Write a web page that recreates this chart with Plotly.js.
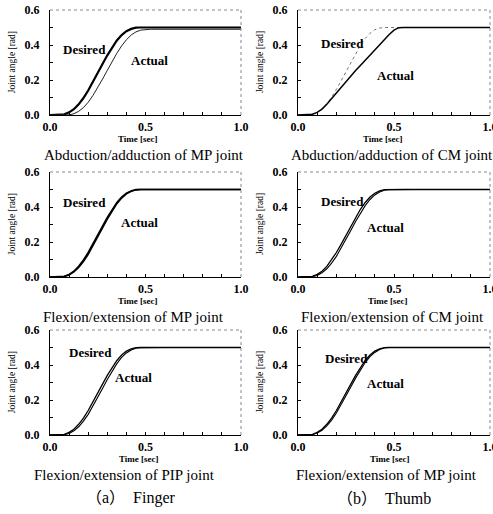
<!DOCTYPE html>
<html>
<head>
<meta charset="utf-8">
<script src="https://cdn.plot.ly/plotly-3.0.1.min.js"></script>
<style>html,body{margin:0;padding:0;background:#fff;}#chart{width:493px;height:514px;}</style>
</head>
<body>
<div id="chart"></div>
<script>
// ---- data ----
var time = [0, 0.05, 0.075, 0.1, 0.125, 0.15, 0.175, 0.2, 0.225, 0.25, 0.275, 0.3, 0.325, 0.35, 0.375, 0.4, 0.425, 0.45, 0.475, 0.5, 0.525, 0.55, 0.6, 1.0];

var desired1 = [0, 0.000, 0.004, 0.015, 0.033, 0.061, 0.097, 0.140, 0.188, 0.240, 0.291, 0.341, 0.387, 0.426, 0.457, 0.479, 0.492, 0.499, 0.500, 0.500, 0.500, 0.500, 0.500, 0.500];
var actual1  = [0, 0.000, 0.000, 0.001, 0.007, 0.021, 0.042, 0.073, 0.112, 0.156, 0.205, 0.255, 0.305, 0.353, 0.395, 0.430, 0.457, 0.475, 0.485, 0.489, 0.490, 0.490, 0.490, 0.490];

var desired2 = [0, 0.000, 0.004, 0.016, 0.035, 0.064, 0.101, 0.146, 0.196, 0.250, 0.302, 0.352, 0.398, 0.437, 0.467, 0.487, 0.497, 0.500, 0.500, 0.500, 0.500, 0.500, 0.500, 0.500];
var actual2  = [0, 0.000, 0.004, 0.015, 0.034, 0.062, 0.095, 0.128, 0.158, 0.192, 0.224, 0.254, 0.283, 0.313, 0.343, 0.373, 0.403, 0.432, 0.460, 0.485, 0.499, 0.500, 0.500, 0.500];

var desired3 = [0, 0.000, 0.004, 0.015, 0.033, 0.061, 0.097, 0.140, 0.188, 0.240, 0.291, 0.341, 0.387, 0.426, 0.457, 0.479, 0.492, 0.499, 0.500, 0.500, 0.500, 0.500, 0.500, 0.500];
var actual3  = [0, 0.000, 0.003, 0.012, 0.029, 0.055, 0.089, 0.130, 0.178, 0.229, 0.281, 0.331, 0.378, 0.419, 0.451, 0.475, 0.490, 0.498, 0.500, 0.500, 0.500, 0.500, 0.500, 0.500];

var desired4 = [0, 0.000, 0.004, 0.015, 0.033, 0.061, 0.097, 0.140, 0.188, 0.240, 0.291, 0.341, 0.387, 0.426, 0.457, 0.479, 0.492, 0.499, 0.500, 0.500, 0.500, 0.500, 0.500, 0.500];
var actual4  = [0, 0.000, 0.002, 0.009, 0.024, 0.047, 0.079, 0.118, 0.165, 0.215, 0.266, 0.317, 0.365, 0.408, 0.443, 0.469, 0.486, 0.496, 0.499, 0.500, 0.500, 0.500, 0.500, 0.500];

var desired5 = [0, 0.000, 0.004, 0.015, 0.033, 0.061, 0.097, 0.140, 0.188, 0.240, 0.291, 0.341, 0.387, 0.426, 0.457, 0.479, 0.492, 0.499, 0.500, 0.500, 0.500, 0.500, 0.500, 0.500];
var actual5  = [0, 0.000, 0.002, 0.009, 0.024, 0.047, 0.079, 0.118, 0.165, 0.215, 0.266, 0.317, 0.365, 0.408, 0.443, 0.469, 0.486, 0.496, 0.499, 0.500, 0.500, 0.500, 0.500, 0.500];

var desired6 = [0, 0.000, 0.004, 0.015, 0.033, 0.061, 0.097, 0.140, 0.188, 0.240, 0.291, 0.341, 0.387, 0.426, 0.457, 0.479, 0.492, 0.499, 0.500, 0.500, 0.500, 0.500, 0.500, 0.500];
var actual6  = [0, 0.000, 0.002, 0.011, 0.027, 0.052, 0.085, 0.126, 0.173, 0.223, 0.274, 0.325, 0.372, 0.414, 0.448, 0.472, 0.488, 0.497, 0.500, 0.500, 0.500, 0.500, 0.500, 0.500];

var subtitles = ["Abduction/adduction of MP joint", "Abduction/adduction of CM joint",
                 "Flexion/extension of MP joint", "Flexion/extension of CM joint",
                 "Flexion/extension of PIP joint", "Flexion/extension of MP joint"];
var captions = ["（a）　Finger", "（b）　Thumb"];
var xTitle = "Time [sec]";
var yTitle = "Joint angle [rad]";
var labelDesired = "Desired";
var labelActual = "Actual";

// ---- layout / styling ----
var W = 493, H = 514;
var colX = [[50, 241], [298, 490]];
var rowY = [[10, 115], [172, 277], [330, 435]];
var desiredSets = [desired1, desired2, desired3, desired4, desired5, desired6];
var actualSets = [actual1, actual2, actual3, actual4, actual5, actual6];
var desiredStyle = [
  {color: '#000', width: 2.2, dash: 'solid'},
  {color: '#777', width: 1, dash: 'dot'},
  {color: '#000', width: 1.6, dash: 'solid'},
  {color: '#000', width: 1.3, dash: 'solid'},
  {color: '#000', width: 1.3, dash: 'solid'},
  {color: '#000', width: 1.3, dash: 'solid'}
];
var actualStyle = [
  {color: '#222', width: 1, dash: 'solid'},
  {color: '#000', width: 1.5, dash: 'solid'},
  {color: '#000', width: 1.6, dash: 'solid'},
  {color: '#000', width: 1.1, dash: 'solid'},
  {color: '#000', width: 1.1, dash: 'solid'},
  {color: '#000', width: 1.1, dash: 'solid'}
];
// label positions in data units [x, y]
var desiredPos = [[0.183, 0.377], [0.23, 0.406], [0.183, 0.423], [0.23, 0.433], [0.21, 0.474], [0.25, 0.44]];
var actualPos  = [[0.52, 0.314], [0.51, 0.223], [0.466, 0.309], [0.458, 0.283], [0.435, 0.331], [0.455, 0.297]];
var subX = [144, 392, 133, 392, 124, 386];
var timeX = [138, 383, 138, 388, 139, 390];

var serif = 'Liberation Serif, Times New Roman, serif';
var traces = [], annotations = [], shapes = [];
var layout = {
  width: W, height: H, margin: {l: 0, r: 0, t: 0, b: 0},
  paper_bgcolor: '#fff', plot_bgcolor: '#fff', showlegend: false
};

for (var i = 0; i < 6; i++) {
  var col = i % 2, row = Math.floor(i / 2);
  var sfx = i === 0 ? '' : String(i + 1);
  var xa = 'x' + sfx, ya = 'y' + sfx;
  traces.push({x: time, y: desiredSets[i], xaxis: xa, yaxis: ya, type: 'scatter', mode: 'lines',
               line: desiredStyle[i], hoverinfo: 'skip'});
  traces.push({x: time, y: actualSets[i], xaxis: xa, yaxis: ya, type: 'scatter', mode: 'lines',
               line: actualStyle[i], hoverinfo: 'skip'});
  var x0 = colX[col][0] / W, x1 = colX[col][1] / W;
  var y0 = 1 - rowY[row][1] / H, y1 = 1 - rowY[row][0] / H;
  layout['xaxis' + sfx] = {
    domain: [x0, x1], anchor: ya, range: [0, 1], dtick: 0.5, tickformat: '.1f',
    showline: true, linecolor: '#000', linewidth: 1, showgrid: false, zeroline: false,
    ticks: 'inside', ticklen: 3, tickcolor: '#000', ticklabelstandoff: 1, ticklabeloverflow: 'allow',
    minor: {dtick: 0.1, ticks: 'inside', ticklen: 3, tickcolor: '#000', showgrid: false},
    tickfont: {family: serif, size: 12, color: '#000', weight: 'bold'}, fixedrange: true
  };
  layout['yaxis' + sfx] = {
    domain: [y0, y1], anchor: xa, range: [0, 0.6], dtick: 0.2, tickformat: '.1f',
    showline: true, linecolor: '#000', linewidth: 1, showgrid: false, zeroline: false,
    ticks: 'inside', ticklen: 3, tickcolor: '#000', ticklabelstandoff: 7,
    minor: {dtick: 0.1, ticks: 'inside', ticklen: 3, tickcolor: '#000', showgrid: false},
    tickfont: {family: serif, size: 12, color: '#000', weight: 'bold'}, fixedrange: true
  };
  // dotted top and right frame
  shapes.push({type: 'line', xref: xa + ' domain', yref: ya + ' domain', x0: 0, x1: 1, y0: 1, y1: 1,
               line: {color: '#888', width: 1, dash: 'dot'}});
  shapes.push({type: 'line', xref: xa + ' domain', yref: ya + ' domain', x0: 1, x1: 1, y0: 0, y1: 1,
               line: {color: '#888', width: 1, dash: 'dot'}});
  // curve labels
  annotations.push({xref: xa, yref: ya, x: desiredPos[i][0], y: desiredPos[i][1], text: labelDesired,
                    xanchor: 'center', yanchor: 'middle',
                    showarrow: false, font: {family: serif, size: 13, color: '#000', weight: 'bold'}});
  annotations.push({xref: xa, yref: ya, x: actualPos[i][0], y: actualPos[i][1], text: labelActual,
                    xanchor: 'center', yanchor: 'middle',
                    showarrow: false, font: {family: serif, size: 13, color: '#000', weight: 'bold'}});
  // y-axis title
  annotations.push({xref: xa + ' domain', yref: ya + ' domain', x: -0.2, y: 0.5, text: yTitle, textangle: -90,
                    xanchor: 'center', yanchor: 'middle',
                    showarrow: false, font: {family: serif, size: 9.5, color: '#000'}});
  // x-axis title
  annotations.push({xref: 'paper', yref: 'paper', x: timeX[i] / W, y: 1 - (rowY[row][1] + 24) / H,
                    text: xTitle, showarrow: false, xanchor: 'center', yanchor: 'middle',
                    font: {family: serif, size: 9, color: '#000', weight: 'bold'}});
  // subplot caption
  annotations.push({xref: 'paper', yref: 'paper', x: subX[i] / W, y: 1 - (rowY[row][1] + 40) / H,
                    text: subtitles[i], showarrow: false, xanchor: 'center', yanchor: 'middle',
                    font: {family: serif, size: 15, color: '#000'}});
}
annotations.push({xref: 'paper', yref: 'paper', x: 131 / W, y: 1 - 498 / H, text: captions[0], showarrow: false,
                  xanchor: 'center', yanchor: 'middle',
                  font: {family: 'Liberation Serif, Noto Sans CJK JP, serif', size: 16, color: '#000'}});
annotations.push({xref: 'paper', yref: 'paper', x: 384 / W, y: 1 - 498 / H, text: captions[1], showarrow: false,
                  xanchor: 'center', yanchor: 'middle',
                  font: {family: 'Liberation Serif, Noto Sans CJK JP, serif', size: 16, color: '#000'}});

layout.annotations = annotations;
layout.shapes = shapes;
Plotly.newPlot('chart', traces, layout, {displayModeBar: false, staticPlot: true});
</script>
</body>
</html>
